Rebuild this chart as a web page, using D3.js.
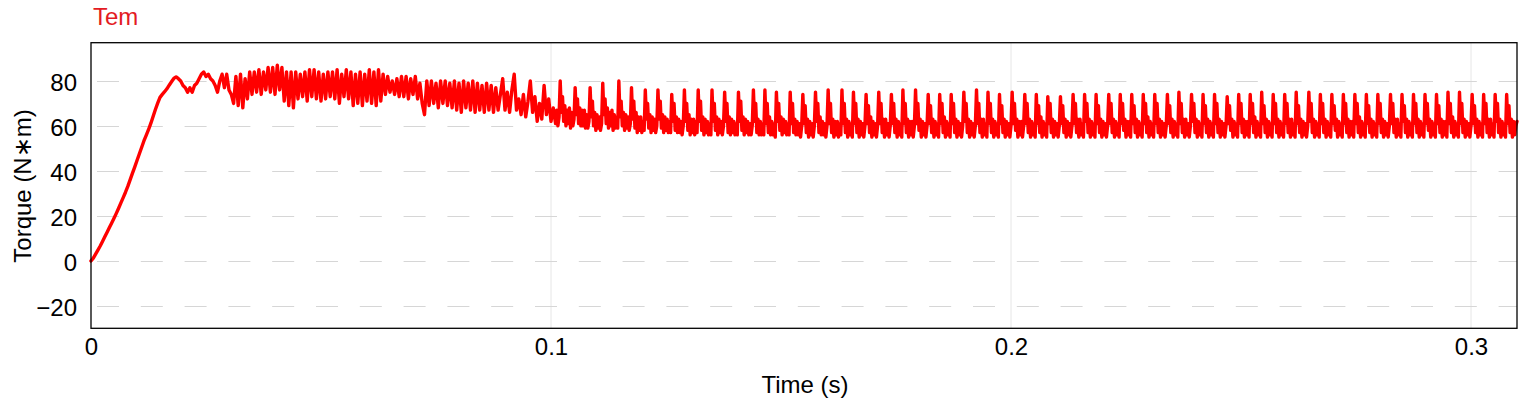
<!DOCTYPE html>
<html><head><meta charset="utf-8">
<script src="https://cdn.jsdelivr.net/npm/d3@7"></script>
<style>
body{margin:0;background:#fff;}
svg{display:block;font-family:"Liberation Sans",Arial,sans-serif;}
</style>
</head><body>
<svg id="chart" width="1535" height="402"></svg>
<script>
// ---- data ----
// part 1: samples every 0.5 ms from t = 0
const coarseStep = 0.0005;
const rampValues = [0,1.2,3,4.8,6.6,8.6,10.7,12.7,14.8,16.8,
  18.9,21.1,23.4,25.8,28.1,30.5,33.1,36,38.9,41.7,
  44.6,47.5,50.4,53.3,55.8,58.3,61.1,64.2,67.3,70.1,
  72.7,74,75.2,76.5,78.1,79.6,81.1,81.8];
const startupValues = [81,80,78,77,75,77,75,78,79,81,
  83,84,82,83,81,80,78,75,80,83,
  77,83,76,74,
  70,82,69,83,68,81,72,84,74,84,
  75,85,74,84,76,86,75,86,74,87,
  76,86,71,84,69,84,68,84,72,83,
  73,84,71,85,73,85,72,84,71,83,
  72,84,73,84,72,85,70,83,73,85,
  72,84];
const transitionValues = [69,83,70,84,69,83,71,85,70,84,
  69,85,71,83,
  74,82,75,80,74,81,73,82,
  73,82,72,81,74,82,72,
  79,70,65,
  80,69,80,70,79,68,80,70,80,69,79,
  68,80,67,79,66,80,68,79,67,80,66,79,67,78,66,79,
  67,78,66,77,67,74,81,67,75,66,76,83,67,
  72,65,74,64,71,80,66,73,62,70,63,78,65,72,62,68];
// part 2: samples every 0.25 ms from t = 0.101 s
const fineStart = 0.101;
const fineStep = 0.00025;
const rippleValues = [61,67,60,64,
  80,66,73,62,69,60,67,61,68,59,66,60,63,
  77,65,72,61,68,60,67,60,67,59,65,59,62,
  77,64,71,60,66,58,65,59,64,58,61,
  79,65,72,61,68,59,66,60,67,58,65,59,64,59,
  80,64,71,60,66,58,65,59,64,58,61,
  77,63,71,59,66,57,64,58,64,57,62,58,
  76,63,70,59,65,57,64,58,63,57,60,
  76,63,71,59,65,57,64,58,63,57,62,57,
  74,62,70,58,64,57,63,57,62,56,60,
  76,62,70,58,65,56,63,57,63,56,62,57,
  76,62,71,58,64,56,63,57,62,56,61,56,
  76,62,70,58,64,56,63,57,62,56,60,
  75,62,70,57,64,56,63,57,62,56,61,56,
  75,62,71,58,64,56,63,57,62,56,61,56,60,
  76,62,70,57,63,56,62,56,61,56,
  76,61,70,57,64,56,62,56,61,55,
  75,62,70,58,64,56,63,57,62,56,61,56,
  75,61,70,57,63,56,62,56,61,55,60,
  74,61,69,57,63,55,62,56,61,55,60,
  75,62,70,57,64,56,62,56,61,55,60,
  76,61,70,57,63,55,62,56,62,55,61,56];
const steadyValues = [76,61,70,57,63,55,62,56,61,55,
  75,61,70,57,63,55,62,56,61,55,60,
  74,61,69,57,64,55,62,56,61,55,60,
  75,61,70,57,63,55,63,56,61,55,60,
  74,61,70,57,63,55,62,56,61,55,
  76,61,70,57,63,55,62,56,62,55,60,
  76,61,70,58,63,55,62,56,61,55,60,
  74,61,69,57,63,55,62,56,61,55,
  74,61,70,57,64,55,62,56,61,55,
  74,61,70,57,63,55,62,56,61,55,60,
  75,62,70,57,63,55,62,56,61,55,60,
  76,61,70,57,63,55,63,56,61,55,
  75,61,70,57,63,55,62,56,61,55,
  74,61,69,57,63,55,62,56,61,55,60,
  75,61,70,58,63,55,62,56,62,55,60,
  74,61,70,57,63,55,62,56,61,55,
  74,61,69,57,64,55,62,56,61,55,
  73,61,70,57,63,55,62,56,61,55,60,
  73,61,69,57,63,55,62,56,61,55,60,
  74,61,70,57,63,55,63,56,61,55,
  74,62,70,57,63,55,62,56,61,55,
  74,61,69,57,63,55,62,56,61,55,60,
  74,61,70,57,63,55,62,56,61,55,
  74,61,70,58,63,55,62,56,62,55,
  74,61,69,57,63,55,62,56,61,55,
  74,61,70,57,64,55,62,56,61,55,
  74,61,70,57,63,55,62,56,61,55,60,
  74,61,69,57,63,55,62,56,61,55,
  75,61,70,57,63,55,63,56,61,55,60,
  74,62,70,57,63,55,62,56,61,55,
  74,61,69,57,63,55,62,56,61,55,
  74,61,70,57,63,55,62,56,61,55,60,
  73,61,69,58,63,55,62,56,61,55,
  74,61,70,57,63,55,62,56,62,55,
  74,61,70,57,64,55,62,56,61,55,
  75,61,69,57,63,55,62,56,61,55,
  74,61,70,57,63,55,62,56,61,55,
  74,61,70,57,63,55,63,56,61,55,
  75,61,69,57,63,55,62,56,61,55,60,
  75,62,70,57,63,55,62,56,61,55,
  74,61,70,57,63,55,62,56,61,55,
  74,61,69,58,63,55,62,56,61,55,
  74,61,70,57,63,55,62,56,62,55,
  74,61,70,57,64,55,62,56,61,55,
  74,61,69,57,63,55,62,56,61,55,
  74,61,70,57,63,55,62,56,61,55,60,
  74,61,70,57,63,55,63,56,61,55,
  74,62,69,57,63,55,62,56,61,55,
  74,61,70,57,63,55,62,56,61,55,
  74,61,70,58,63,55,62,56,61,55,
  74,61,69,57,63,55,62,56,62,55,
  75,61,70,57,64,55,62,56,61,55,
  75,61,70,57,63,55,62,56,61,55,60,
  74,61,69,57,63,55,62,56,61,55,
  74,61,70,57,63,55,63,56,61,55,
  74,62,70,57,63,55,62,56,61,55,
  74,61,69,57,63,55,62,56,60,62];
const xTicks = [0, 0.1, 0.2, 0.3];
const xTickLabels = ["0", "0.1", "0.2", "0.3"];
const yTicks = [-20, 0, 20, 40, 60, 80];
const yTickLabels = ["\u221220", "0", "20", "40", "60", "80"];
const seriesName = "Tem";
const xTitle = "Time (s)";
const yTitle = "Torque (N\u2217m)";

// ---- build ----
const coarse = [].concat(rampValues, startupValues, transitionValues)
  .map((v, i) => ({t: i * coarseStep, v: v}));
const fine = [].concat(rippleValues, steadyValues)
  .map((v, j) => ({t: fineStart + j * fineStep, v: v}));
const data = coarse.concat(fine);

const svg = d3.select("#chart");
const L = 91, R = 1517, T = 42.7, B = 328.3;
const x = d3.scaleLinear().domain([0, 0.31]).range([L, R]);
const y = d3.scaleLinear().domain([-30, 97]).range([B, T]);

// gridlines
svg.append("g").selectAll("line").data(xTicks.filter(d => d > 0)).join("line")
  .attr("x1", d => x(d)).attr("x2", d => x(d)).attr("y1", T).attr("y2", B)
  .attr("stroke", "#e6e6e6").attr("stroke-width", 1);
svg.append("g").selectAll("line").data(yTicks).join("line")
  .attr("x1", L).attr("x2", R).attr("y1", d => Math.round(y(d)) + 0.5).attr("y2", d => Math.round(y(d)) + 0.5)
  .attr("stroke", "#d6d6d6").attr("stroke-width", 1)
  .attr("stroke-dasharray", "22,21.8").attr("stroke-dashoffset", 37.8);

// data line
const line = d3.line().x(d => x(d.t)).y(d => y(d.v));
svg.append("path").datum(data).attr("d", line)
  .attr("fill", "none").attr("stroke", "#ff0000").attr("stroke-width", 3.4)
  .attr("stroke-linejoin", "round").attr("stroke-linecap", "round");

// frame
svg.append("rect").attr("x", L).attr("y", T).attr("width", R - L).attr("height", B - T)
  .attr("fill", "none").attr("stroke", "#000").attr("stroke-width", 1.3);

// axes
const xAxis = d3.axisBottom(x).tickValues(xTicks).tickSize(0).tickPadding(10)
  .tickFormat((d, i) => xTickLabels[i]);
const gx = svg.append("g").attr("transform", `translate(0,${B})`).call(xAxis);
gx.select(".domain").remove();
gx.selectAll("text").attr("font-size", 24).attr("fill", "#000")
  .attr("font-family", "'Liberation Sans',Arial,sans-serif");

const yAxis = d3.axisLeft(y).tickValues(yTicks).tickSize(0).tickPadding(14)
  .tickFormat((d, i) => yTickLabels[i]);
const gy = svg.append("g").attr("transform", `translate(${L},0)`).call(yAxis);
gy.select(".domain").remove();
gy.selectAll("text").attr("font-size", 24).attr("fill", "#000").attr("dy", "0.4em")
  .attr("font-family", "'Liberation Sans',Arial,sans-serif");

// titles
svg.append("text").attr("x", 93).attr("y", 25).attr("font-size", 24)
  .attr("fill", "#e31b23").text(seriesName);
svg.append("text").attr("x", 805).attr("y", 393).attr("text-anchor", "middle")
  .attr("font-size", 24).attr("fill", "#000").text(xTitle);
svg.append("text").attr("transform", "translate(31,186) rotate(-90)")
  .attr("text-anchor", "middle").attr("font-size", 24).attr("fill", "#000").text(yTitle);
</script>
</body></html>
